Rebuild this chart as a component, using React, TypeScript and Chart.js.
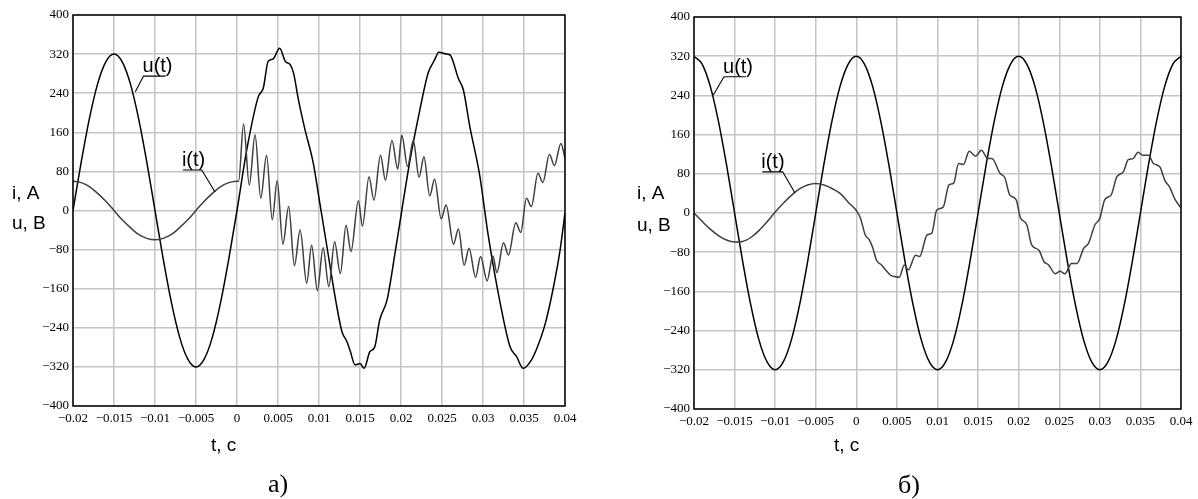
import React, { useEffect, useRef } from "react";
import { Chart, registerables } from "chart.js";

Chart.register(...registerables);

// ---------- axis ticks ----------
const X_TICKS = [-0.02, -0.015, -0.01, -0.005, 0, 0.005, 0.01, 0.015, 0.02, 0.025, 0.03, 0.035, 0.04];
const X_TICK_LABELS = ["\u22120.02", "\u22120.015", "\u22120.01", "\u22120.005", "0", "0.005", "0.01", "0.015", "0.02", "0.025", "0.03", "0.035", "0.04"];
const Y_TICKS = [-400, -320, -240, -160, -80, 0, 80, 160, 240, 320, 400];
const Y_TICK_LABELS = ["\u2212400", "\u2212320", "\u2212240", "\u2212160", "\u221280", "0", "80", "160", "240", "320", "400"];

// ---------- chart a) ----------
const uA_t = [-0.02, -0.019, -0.018, -0.017, -0.016, -0.015, -0.014, -0.013, -0.012, -0.011, -0.01, -0.009, -0.008, -0.007, -0.006, -0.005, -0.004, -0.003, -0.002, -0.001, 0,
  0.0012, 0.0026, 0.0032, 0.0038, 0.0044, 0.0052, 0.0059, 0.0065, 0.0069, 0.0075, 0.0083, 0.0093, 0.0101, 0.0109, 0.0121, 0.0128, 0.0134, 0.0138, 0.0144, 0.015, 0.0155, 0.0162, 0.0168, 0.0174, 0.0183, 0.0193,
  0.0211, 0.0223, 0.0233, 0.0241, 0.0246, 0.0256, 0.026, 0.027, 0.0276, 0.0284, 0.0296, 0.0306, 0.0321, 0.0333, 0.0341, 0.0349, 0.0359, 0.0365, 0.0376, 0.0386, 0.0394, 0.04];
const uA_v = [0, 99, 188, 259, 304, 320, 304, 259, 188, 99, 0, -99, -188, -259, -304, -320, -304, -259, -188, -99, 0,
  125, 233, 250, 305, 310, 332, 305, 298, 281, 226, 165, 97, 15, -67, -190, -248, -268, -287, -316, -313, -323, -289, -279, -224, -183, -84,
  103, 206, 281, 308, 324, 320, 318, 270, 247, 171, 72, -47, -190, -279, -299, -323, -306, -285, -231, -156, -81, -5];

const iA_t = [-0.02, -0.019, -0.018, -0.017, -0.016, -0.015, -0.014, -0.013, -0.012, -0.011, -0.01, -0.009, -0.008, -0.007, -0.006, -0.005, -0.004, -0.003, -0.002, -0.001, 0,
  0.0002, 0.0008, 0.0015, 0.0022, 0.0029, 0.0036, 0.0043, 0.0049, 0.0056, 0.0063, 0.007, 0.0077, 0.0085, 0.0091, 0.0098, 0.0105, 0.0112, 0.0119, 0.0126, 0.0133,
  0.0139, 0.0148, 0.0153, 0.0161, 0.0167, 0.0175, 0.0181, 0.0189, 0.0196, 0.0201, 0.0208, 0.0215, 0.0222, 0.0228, 0.0235, 0.0241, 0.0249, 0.0255, 0.0264, 0.027,
  0.0277, 0.0283, 0.0291, 0.0297, 0.0305, 0.0312, 0.0317, 0.0325, 0.0331, 0.034, 0.0346, 0.0353, 0.0359, 0.0367, 0.0373, 0.0381, 0.0387, 0.0395, 0.04];
const iA_v = [60, 57, 49, 35, 19, 0, -19, -35, -49, -57, -60, -57, -49, -35, -19, 0, 19, 35, 49, 57, 60,
  60, 177, 52, 155, 25, 113, -19, 61, -69, 8, -113, -40, -149, -71, -164, -76, -156, -64, -129, -30,
  -84, 20, -32, 69, 21, 113, 62, 143, 85, 154, 90, 143, 68, 110, 30, 64, -17, 11, -69, -38,
  -112, -77, -137, -94, -144, -93, -127, -66, -91, -25, -45, 25, 8, 76, 57, 115, 92, 137, 107];

// ---------- chart б) ----------
const uB_t = [-0.02, -0.019, -0.018, -0.017, -0.016, -0.015, -0.014, -0.013, -0.012, -0.011, -0.01, -0.009, -0.008, -0.007, -0.006, -0.005, -0.004, -0.003, -0.002, -0.001,
  0, 0.001, 0.002, 0.003, 0.004, 0.005, 0.006, 0.007, 0.008, 0.009, 0.01, 0.011, 0.012, 0.013, 0.014, 0.015, 0.016, 0.017, 0.018, 0.019,
  0.02, 0.021, 0.022, 0.023, 0.024, 0.025, 0.026, 0.027, 0.028, 0.029, 0.03, 0.031, 0.032, 0.033, 0.034, 0.035, 0.036, 0.037, 0.038, 0.039, 0.04];
const uB_v = [320, 304, 259, 188, 99, 0, -99, -188, -259, -304, -320, -304, -259, -188, -99, 0, 99, 188, 259, 304,
  320, 304, 259, 188, 99, 0, -99, -188, -259, -304, -320, -304, -259, -188, -99, 0, 99, 188, 259, 304,
  320, 304, 259, 188, 99, 0, -99, -188, -259, -304, -320, -304, -259, -188, -99, 0, 99, 188, 259, 304, 320];

const iB_t = [-0.02, -0.019, -0.018, -0.017, -0.016, -0.015, -0.014, -0.013, -0.012, -0.011, -0.01, -0.009, -0.008, -0.007, -0.006, -0.005, -0.004, -0.003, -0.002, -0.001, 0,
  0.0005, 0.0011, 0.0016, 0.002, 0.0025, 0.0031, 0.0037, 0.0043, 0.0048, 0.0053, 0.0059, 0.0064, 0.0073, 0.0078, 0.0087, 0.0093, 0.0099, 0.0107, 0.0114, 0.012,
  0.0126, 0.0132, 0.0139, 0.0147, 0.0154, 0.0162, 0.0167, 0.0177, 0.0183, 0.0189, 0.0197, 0.0202, 0.021, 0.0216, 0.0225, 0.0231, 0.0237, 0.0245, 0.0251, 0.0257,
  0.0265, 0.0272, 0.028, 0.0286, 0.0294, 0.03, 0.0306, 0.0314, 0.0321, 0.0329, 0.0335, 0.0341, 0.0347, 0.0353, 0.036, 0.0366, 0.0374, 0.038, 0.0386, 0.0392, 0.04];
const iB_v = [0, -17, -33, -46, -55, -59, -58, -50, -36, -18, 2, 20, 36, 49, 57, 60, 57, 50, 40, 22, 5,
  -10, -45, -55, -70, -97, -106, -118, -128, -130, -131, -106, -116, -86, -89, -45, -41, 6, 12, 57, 61,
  101, 99, 126, 116, 128, 111, 111, 81, 72, 37, 27, -9, -24, -65, -76, -99, -106, -124, -119, -124,
  -103, -103, -72, -62, -24, -11, 27, 37, 74, 84, 109, 111, 124, 118, 118, 101, 94, 67, 53, 30, 10];

const pts = (ts: number[], vs: number[]) => {
  const n = Math.min(ts.length, vs.length);
  const out: { x: number; y: number }[] = [];
  for (let k = 0; k < n; k++) out.push({ x: ts[k], y: vs[k] });
  return out;
};

const decorPlugin = {
  id: "decor",
  afterDraw(chart: any, _args: any, o: any) {
    const { ctx, chartArea: ca } = chart;
    const xs = chart.scales.x;
    const ys = chart.scales.y;
    ctx.save();
    ctx.strokeStyle = "#000";
    ctx.lineWidth = 1.5;
    ctx.strokeRect(ca.left, ca.top, ca.right - ca.left, ca.bottom - ca.top);

    const notes = o.notes || [];
    for (let k = 0; k < notes.length; k++) {
      const a = notes[k];
      const tx = xs.getPixelForValue(a.tipT), ty = ys.getPixelForValue(a.tipV);
      const ex = xs.getPixelForValue(a.elT), ey = ys.getPixelForValue(a.elV);
      const fx = xs.getPixelForValue(a.endT);
      ctx.lineWidth = 1.1;
      ctx.strokeStyle = "#000";
      ctx.beginPath();
      ctx.moveTo(tx, ty);
      ctx.lineTo(ex, ey);
      ctx.lineTo(fx, ey);
      ctx.stroke();
      ctx.font = '20px "Liberation Sans", Arial, sans-serif';
      ctx.fillStyle = "#000";
      ctx.textAlign = "left";
      ctx.textBaseline = "alphabetic";
      ctx.fillText(a.text, Math.min(ex, fx) - 1, ey - 4);
    }

    const zeroY = ys.getPixelForValue(0);
    ctx.fillStyle = "#000";
    ctx.textAlign = "left";
    ctx.textBaseline = "alphabetic";
    ctx.font = '19px "Liberation Sans", Arial, sans-serif';
    ctx.fillText(o.yTitle1, ca.left + o.yTitleDx, zeroY + o.yTitle1Dy);
    ctx.fillText(o.yTitle2, ca.left + o.yTitleDx, zeroY + o.yTitle2Dy);
    ctx.fillText(o.xTitle, ca.left + o.xTitleDx, ca.bottom + o.xTitleDy);
    ctx.font = '26px "Liberation Serif", "Times New Roman", serif';
    ctx.fillText(o.panel, ca.left + o.panelDx, ca.bottom + o.panelDy);
    ctx.restore();
  },
};

type PanelProps = {
  left: number;
  uT: number[]; uV: number[]; iT: number[]; iV: number[];
  yAxisW: number; xAxisH: number; padTop: number; padRight: number;
  decor: any;
};

function Panel(p: PanelProps) {
  const ref = useRef<HTMLCanvasElement | null>(null);
  useEffect(() => {
    if (!ref.current) return;
    const tickFont = { family: '"Liberation Serif", "Times New Roman", serif', size: 13 };
    const chart = new Chart(ref.current, {
      type: "line",
      data: {
        datasets: [
          {
            label: "i(t)",
            data: pts(p.iT, p.iV),
            borderColor: "#3f3f3f",
            borderWidth: 1.5,
            pointRadius: 0,
            cubicInterpolationMode: "monotone",
            fill: false,
          },
          {
            label: "u(t)",
            data: pts(p.uT, p.uV),
            borderColor: "#000",
            borderWidth: 1.5,
            pointRadius: 0,
            cubicInterpolationMode: "monotone",
            fill: false,
          },
        ],
      },
      options: {
        animation: false,
        responsive: false,
        devicePixelRatio: 1,
        parsing: false,
        layout: { padding: { top: p.padTop, right: p.padRight, left: 0, bottom: 0 } },
        plugins: {
          legend: { display: false },
          tooltip: { enabled: false },
          decor: p.decor,
        } as any,
        scales: {
          x: {
            type: "linear",
            min: -0.02,
            max: 0.04,
            afterBuildTicks: (s: any) => { s.ticks = X_TICKS.map((v) => ({ value: v })); },
            afterFit: (s: any) => { s.height = p.xAxisH; },
            ticks: {
              autoSkip: false,
              maxRotation: 0,
              minRotation: 0,
              padding: 5,
              color: "#000",
              font: tickFont,
              callback: (_v: any, i: number) => X_TICK_LABELS[i],
            },
            grid: { color: "#c4c4c4", lineWidth: 1.5, drawTicks: false },
            border: { display: false },
          },
          y: {
            type: "linear",
            min: -400,
            max: 400,
            afterBuildTicks: (s: any) => { s.ticks = Y_TICKS.map((v) => ({ value: v })); },
            afterFit: (s: any) => { s.width = p.yAxisW; },
            ticks: {
              autoSkip: false,
              padding: 4,
              color: "#000",
              font: tickFont,
              callback: (_v: any, i: number) => Y_TICK_LABELS[i],
            },
            grid: { color: "#c4c4c4", lineWidth: 1.5, drawTicks: false },
            border: { display: false },
          },
        },
      } as any,
      plugins: [decorPlugin as any],
    });
    return () => chart.destroy();
  }, []);
  return (
    <canvas
      ref={ref}
      width={599}
      height={499}
      style={{ position: "absolute", left: p.left, top: 0, width: 599, height: 499 }}
    />
  );
}

export default function App() {
  return (
    <div style={{ position: "absolute", left: 0, top: 0, width: 1198, height: 499, background: "#fff", overflow: "hidden" }}>
      <Panel
        left={0}
        uT={uA_t} uV={uA_v} iT={iA_t} iV={iA_v}
        yAxisW={73} xAxisH={93} padTop={15} padRight={34}
        decor={{
          notes: [
            { text: "u(t)", tipT: -0.0124, tipV: 243, elT: -0.0114, elV: 275, endT: -0.0087 },
            { text: "i(t)", tipT: -0.00268, tipV: 38, elT: -0.0043, elV: 83, endT: -0.0066 },
          ],
          yTitle1: "i, A", yTitle2: "u, B", yTitleDx: -61, yTitle1Dy: -12, yTitle2Dy: 18,
          xTitle: "t, c", xTitleDx: 138, xTitleDy: 45,
          panel: "a)", panelDx: 195, panelDy: 86,
        }}
      />
      <Panel
        left={599}
        uT={uB_t} uV={uB_v} iT={iB_t} iV={iB_v}
        yAxisW={95} xAxisH={90} padTop={17} padRight={17}
        decor={{
          notes: [
            { text: "u(t)", tipT: -0.01762, tipV: 241, elT: -0.0163, elV: 278, endT: -0.01363 },
            { text: "i(t)", tipT: -0.00756, tipV: 41, elT: -0.00907, elV: 84, endT: -0.01159 },
          ],
          yTitle1: "i, A", yTitle2: "u, B", yTitleDx: -57, yTitle1Dy: -14, yTitle2Dy: 18,
          xTitle: "t, c", xTitleDx: 140, xTitleDy: 42,
          panel: "\u0431)", panelDx: 204, panelDy: 84,
        }}
      />
    </div>
  );
}
